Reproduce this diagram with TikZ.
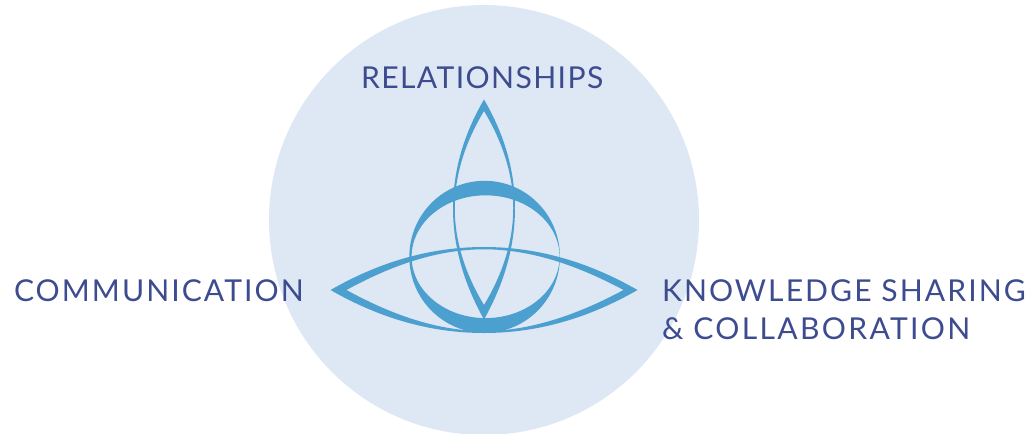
\documentclass[tikz,border=0pt]{standalone}
\usepackage{fontspec}
\setmainfont[LetterSpace=6.8]{Lato}
\definecolor{disc}{HTML}{DEE7F4}
\definecolor{ring}{HTML}{4BA0CF}
\definecolor{ink}{HTML}{3D4C8F}
\tikzset{
  label text/.style={anchor=base west,inner sep=0pt,outer sep=0pt,text=ink,align=left,font=\fontsize{22.6}{28.5}\selectfont},
  glyph/.style={fill=ring,draw=none,even odd rule}
}
\begin{document}
\begin{tikzpicture}[x=0.75pt,y=-0.75pt]
\useasboundingbox (0,0) rectangle (1031,433);
\begin{scope}
\clip (0,0) rectangle (1031,433);
\fill[disc] (484,220) circle[radius=215];
\end{scope}
% vertical lens
\path[glyph] (484,99.5) .. controls (442.7,170) and (442.7,246) .. (484,319.5)
  .. controls (525.3,246) and (525.3,170) .. (484,99.5)
  (484,111) .. controls (445,176) and (445,240) .. (484,305)
  .. controls (523,240) and (523,176) .. (484,111);
% ring
\path[glyph] (484.6,256.8) ellipse[x radius=75.3,y radius=76]
  (485.6,256.7) ellipse[x radius=74,y radius=61.4];
% horizontal lens
\path[glyph] (330.5,290) .. controls (381,261) and (432,247) .. (484,247)
  .. controls (536,247) and (587,261) .. (637.5,290)
  .. controls (587,319) and (536,333) .. (484,333)
  .. controls (432,333) and (381,319) .. (330.5,290)
  (346.5,290) .. controls (392,265) and (438,249.3) .. (484,249.3)
  .. controls (530,249.3) and (577,265) .. (623.5,290)
  .. controls (577,315) and (530,331) .. (484,331)
  .. controls (438,331) and (392,315) .. (346.5,290);
\node[label text] (rel) at (361,88) {\addfontfeature{LetterSpace=4.6}RELATIONSHIPS};
\node[label text] (com) at (14,301) {COMMUNICATION};
\node[label text] (kno) at (662,339) {KNOWLEDGE SHARING\\\addfontfeature{LetterSpace=7.6}\& COLLABORATION};
\end{tikzpicture}
\end{document}
